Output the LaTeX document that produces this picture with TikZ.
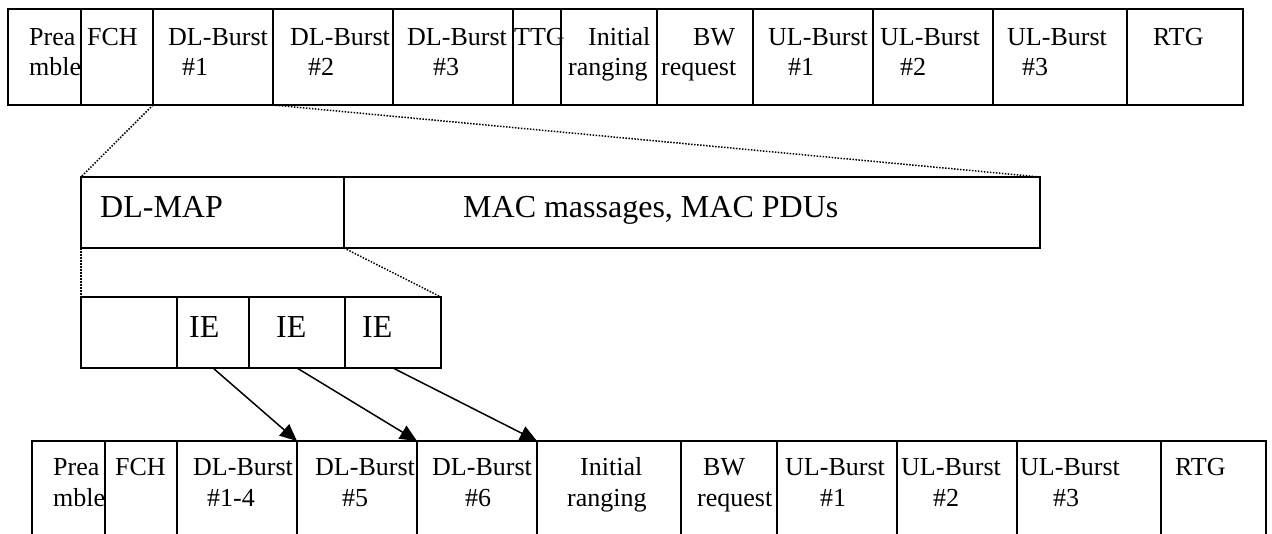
\documentclass[tikz,border=0pt]{standalone}
\usepackage{fontspec}
\setmainfont{Liberation Serif}
\usetikzlibrary{arrows.meta}
\tikzset{
  cell/.style={draw, line width=1.7pt, inner sep=0pt, outer sep=0pt, anchor=north west},
  txt/.style={inner sep=0pt, anchor=base west, font=\fontsize{26}{30}\selectfont},
  bigtxt/.style={inner sep=0pt, anchor=base west, font=\fontsize{32}{36}\selectfont},
  zoomline/.style={line width=1.5pt, dash pattern=on 1.5pt off 1.5pt},
  iearrow/.style={line width=1.5pt, -{Triangle[length=17pt,width=15pt]}}
}
\newcommand{\mycell}[5]{\node[cell, minimum width=#3pt, minimum height=#4pt] (#1) at (#2,#5) {};}
\begin{document}
\begin{tikzpicture}[x=1pt,y=-1pt]
\clip (0,0) rectangle (1272,533);
\useasboundingbox (0,0) rectangle (1272,533);
% top row
\mycell{tP}{8}{73}{96}{9}
\mycell{tF}{81}{72}{96}{9}
\mycell{tD1}{153}{120}{96}{9}
\mycell{tD2}{273}{120}{96}{9}
\mycell{tD3}{393}{120}{96}{9}
\mycell{tT}{513}{48}{96}{9}
\mycell{tIR}{561}{96}{96}{9}
\mycell{tBW}{657}{96}{96}{9}
\mycell{tU1}{753}{120}{96}{9}
\mycell{tU2}{873}{120}{96}{9}
\mycell{tU3}{993}{134}{96}{9}
\mycell{tR}{1127}{116}{96}{9}
\node[txt] (tx1) at (29,45) {Prea};
\node[txt] (tx2) at (29,75) {mble};
\node[txt] (tx3) at (87,45) {FCH};
\node[txt] (tx4) at (168,45) {DL-Burst};
\node[txt] (tx5) at (182,75) {\#1};
\node[txt] (tx6) at (290,45) {DL-Burst};
\node[txt] (tx7) at (308,75) {\#2};
\node[txt] (tx8) at (407,45) {DL-Burst};
\node[txt] (tx9) at (433,75) {\#3};
\node[txt] (tx10) at (514,45) {TTG};
\node[txt] (tx11) at (588,45) {Initial};
\node[txt] (tx12) at (568,75) {ranging};
\node[txt] (tx13) at (693,45) {BW};
\node[txt] (tx14) at (661,75) {request};
\node[txt] (tx15) at (768,45) {UL-Burst};
\node[txt] (tx16) at (788,75) {\#1};
\node[txt] (tx17) at (880,45) {UL-Burst};
\node[txt] (tx18) at (900,75) {\#2};
\node[txt] (tx19) at (1007,45) {UL-Burst};
\node[txt] (tx20) at (1022,75) {\#3};
\node[txt] (tx21) at (1153,45) {RTG};
% middle row
\mycell{mA}{81}{263}{71}{177}
\mycell{mB}{344}{696}{71}{177}
\node[bigtxt] (mx1) at (100,217) {DL-MAP};
\node[bigtxt] (mx2) at (463,217) {MAC massages, MAC PDUs};
% IE row
\mycell{i0}{81}{96}{71}{297}
\mycell{i1}{177}{72}{71}{297}
\mycell{i2}{249}{96}{71}{297}
\mycell{i3}{345}{96}{71}{297}
\node[bigtxt] (ix1) at (189,337) {IE};
\node[bigtxt] (ix2) at (276,337) {IE};
\node[bigtxt] (ix3) at (362,337) {IE};
% bottom row
\mycell{bP}{32}{73}{110}{441}
\mycell{bF}{105}{72}{110}{441}
\mycell{bD1}{177}{120}{110}{441}
\mycell{bD5}{297}{120}{110}{441}
\mycell{bD6}{417}{120}{110}{441}
\mycell{bIR}{537}{144}{110}{441}
\mycell{bBW}{681}{96}{110}{441}
\mycell{bU1}{777}{120}{110}{441}
\mycell{bU2}{897}{120}{110}{441}
\mycell{bU3}{1017}{144}{110}{441}
\mycell{bR}{1161}{105}{110}{441}
\node[txt] (bx1) at (53,475) {Prea};
\node[txt] (bx2) at (53,506) {mble};
\node[txt] (bx3) at (115,475) {FCH};
\node[txt] (bx4) at (193,475) {DL-Burst};
\node[txt] (bx5) at (207,506) {\#1-4};
\node[txt] (bx6) at (315,475) {DL-Burst};
\node[txt] (bx7) at (342,506) {\#5};
\node[txt] (bx8) at (432,475) {DL-Burst};
\node[txt] (bx9) at (465,506) {\#6};
\node[txt] (bx10) at (580,475) {Initial};
\node[txt] (bx11) at (567,506) {ranging};
\node[txt] (bx12) at (703,475) {BW};
\node[txt] (bx13) at (697,506) {request};
\node[txt] (bx14) at (785,475) {UL-Burst};
\node[txt] (bx15) at (820,506) {\#1};
\node[txt] (bx16) at (901,475) {UL-Burst};
\node[txt] (bx17) at (933,506) {\#2};
\node[txt] (bx18) at (1020,475) {UL-Burst};
\node[txt] (bx19) at (1053,506) {\#3};
\node[txt] (bx20) at (1175,475) {RTG};
% zoom lines
\draw[zoomline] (tD1.south west) -- (mA.north west);
\draw[zoomline] (tD1.south east) -- (mB.north east);
\draw[zoomline] (mA.south west) -- (i0.north west);
\draw[zoomline] (mA.south east) -- (i3.north east);
% arrows
\draw[iearrow] (i1.south) -- (bD1.north east);
\draw[iearrow] (i2.south) -- (bD5.north east);
\draw[iearrow] (i3.south) -- (bD6.north east);
\end{tikzpicture}
\end{document}
